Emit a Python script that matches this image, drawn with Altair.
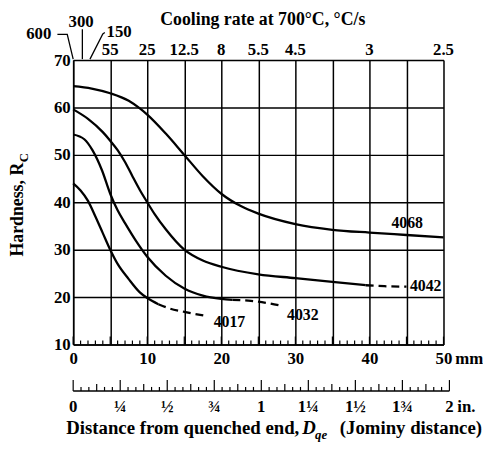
import altair as alt
import pandas as pd

# ---------------- data ----------------
# Jominy curves (distance in mm, hardness HRC)
s4068_x = [0, 2.5, 5, 7.5, 9, 10, 12.5, 15, 17.5, 20, 22.5, 25, 30, 35, 40, 45, 50]
s4068_y = [64.5, 64.0, 63.0, 61.4, 59.8, 58.5, 54.5, 50.0, 45.5, 41.8, 39.3, 37.6, 35.4, 34.2, 33.6, 33.1, 32.6]

s4042_x = [0, 2, 4, 5, 6, 7, 8, 9, 10, 11, 12.5, 15, 17.5, 20, 25, 30, 35, 39.5]
s4042_y = [59.6, 57.6, 54.8, 53.0, 51.0, 48.5, 45.5, 42.6, 40.0, 37.5, 34.3, 30.0, 27.7, 26.4, 24.8, 24.0, 23.2, 22.5]
s4042_dash_x = [39.5, 42, 45]
s4042_dash_y = [22.5, 22.3, 22.2]

s4032_x = [0, 1.5, 2.6, 3.9, 5, 6, 7, 8.5, 10, 12.5, 15, 17.5, 20, 21.5]
s4032_y = [54.3, 53.3, 51.0, 46.7, 41.8, 38.3, 35.6, 31.8, 28.5, 24.5, 21.8, 20.3, 19.6, 19.4]
s4032_dash_x = [21.5, 24, 26, 28]
s4032_dash_y = [19.4, 19.2, 18.8, 18.2]

s4017_x = [0, 1, 2, 3, 4, 5, 6, 7.5, 9, 10, 11.5]
s4017_y = [44.0, 42.5, 40.3, 37.0, 33.5, 30.0, 27.0, 23.8, 21.0, 19.8, 18.5]
s4017_dash_x = [11.5, 13, 15, 18]
s4017_dash_y = [18.5, 17.6, 16.9, 16.0]

# curve labels
curve_names = ["4068", "4042", "4032", "4017"]
curve_label_x = [45.1, 47.6, 31.0, 21.1]
curve_label_y = [35.7, 22.3, 16.3, 14.7]

# top axis: cooling rate at 700 C (C/s) vs distance (mm)
top_pos = [5, 10, 15, 20, 25, 30, 40, 50]
top_lab = ["55", "25", "12.5", "8", "5.5", "4.5", "3", "2.5"]

# rates near the quenched end, with leader lines
near_rates = ["600", "300", "150"]
near_lab_x = [-2.95, 1.07, 4.5]
near_lab_y = [75.4, 78.1, 75.9]
near_align = ["right", "center", "left"]
leader_id = ["600", "600", "600", "300", "300", "150", "150", "150"]
leader_ord = [0, 1, 2, 0, 1, 0, 1, 2]
leader_x = [-2.13, -0.8, 0.0, 1.24, 1.24, 4.27, 4.0, 2.27]
leader_y = [75.42, 75.42, 70.2, 76.5, 70.2, 75.8, 75.5, 70.2]

# mm scale ticks & labels
mm_minor = list(range(0, 51))
mm_grid = list(range(0, 55, 5))
hrc_ticks = [10, 20, 30, 40, 50, 60, 70]

# inch ruler
inch_label_pos = [0, 0.25, 0.5, 0.75, 1.0, 1.25, 1.5, 1.75, 2.0]
inch_label_txt = ["0", "¼", "½", "¾", "1", "1¼", "1½", "1¾", "2"]
inch_steps = list(range(0, 49))  # 1/24 inch steps
MM_PER_IN = 25.4

# ---------------- tables ----------------
def mk(name, xs, ys):
    return pd.DataFrame({"x": xs, "y": ys, "steel": name})

solid = pd.concat([mk("4068", s4068_x, s4068_y), mk("4042", s4042_x, s4042_y),
                   mk("4032", s4032_x, s4032_y), mk("4017", s4017_x, s4017_y)])
dashed = pd.concat([mk("4042", s4042_dash_x, s4042_dash_y), mk("4032", s4032_dash_x, s4032_dash_y),
                    mk("4017", s4017_dash_x, s4017_dash_y)])
labels_df = pd.DataFrame({"x": curve_label_x, "y": curve_label_y, "t": curve_names})
top_df = pd.DataFrame({"x": top_pos, "t": top_lab})
near_df = pd.DataFrame({"x": near_lab_x, "y": near_lab_y, "t": near_rates, "a": near_align})
lead_df = pd.DataFrame({"x": leader_x, "y": leader_y, "id": leader_id, "o": leader_ord})

mm_df = pd.DataFrame({"x": mm_minor})
mm_df["major"] = mm_df["x"] % 5 == 0
inch_df = pd.DataFrame({"i": inch_steps})
inch_df["x"] = inch_df["i"] / 24 * MM_PER_IN
inch_df["kind"] = ["tall" if i % 6 == 0 else ("mid" if i % 3 == 0 else "small") for i in inch_steps]
inch_lab_df = pd.DataFrame({"x": [p * MM_PER_IN for p in inch_label_pos], "t": inch_label_txt})

# ---------------- styling ----------------
FONT = "Liberation Serif"
xs = alt.Scale(domain=[0, 50], nice=False, zero=False)
ys = alt.Scale(domain=[10, 70], nice=False, zero=False)

x_axis = alt.Axis(values=mm_grid, labelExpr="datum.value % 10 == 0 ? datum.label : ''",
                  title=None, tickSize=0, labelPadding=6, grid=True, gridColor="black",
                  gridWidth=1.5, gridOpacity=1, domainColor="black", domainWidth=1.5,
                  labelFont=FONT, labelFontSize=17, labelFontWeight="bold", labelColor="black",
                  labelOverlap=False, labelFlush=False)
y_axis = alt.Axis(values=hrc_ticks, title=None, tickSize=0, labelPadding=3, grid=True,
                  gridColor="black", gridWidth=1.5, gridOpacity=1, domainColor="black",
                  domainWidth=1.5, labelFont=FONT, labelFontSize=17, labelFontWeight="bold",
                  labelColor="black", labelOverlap=False, labelFlush=False)

def X(f="x"):
    return alt.X(f"{f}:Q", scale=xs, axis=x_axis)

def Y(f="y"):
    return alt.Y(f"{f}:Q", scale=ys, axis=y_axis)

txt = dict(font=FONT, fontWeight="bold", color="black", clip=False)

solid_l = alt.Chart(solid).mark_line(color="black", strokeWidth=2.3, interpolate="monotone",
                                     clip=False).encode(x=X(), y=Y(), detail="steel:N")
dashed_l = alt.Chart(dashed).mark_line(color="black", strokeWidth=2.3, strokeDash=[8, 5],
                                       interpolate="monotone", clip=False).encode(
    x=X(), y=Y(), detail="steel:N")
lab_l = alt.Chart(labels_df).mark_text(fontSize=16, **txt).encode(x=X(), y=Y(), text="t:N")

# mm ruler ticks on the bottom axis (pointing up)
mm_minor_l = alt.Chart(mm_df).transform_filter("!datum.major").mark_rule(
    color="black", strokeWidth=1.2).encode(x=X(), y=alt.value(288), y2=alt.value(284))
mm_major_l = alt.Chart(mm_df).transform_filter("datum.major").mark_rule(
    color="black", strokeWidth=1.2).encode(x=X(), y=alt.value(288), y2=alt.value(280))
mm_unit = alt.Chart(pd.DataFrame({"x": [50], "t": ["mm"]})).mark_text(
    fontSize=17, align="left", dx=12, baseline="alphabetic", **txt).encode(
    x=X(), y=alt.value(308), text="t:N")

# top axis labels
top_l = alt.Chart(top_df).mark_text(fontSize=17, baseline="alphabetic", **txt).encode(
    x=X(), y=alt.value(-5), text="t:N")
top_title = alt.Chart(pd.DataFrame({"t": ["Cooling rate at 700°C, °C/s"]})).mark_text(
    fontSize=18, baseline="alphabetic", **txt).encode(
    x=alt.value(192), y=alt.value(-36), text="t:N")
near_layers = []
for a in ["right", "center", "left"]:
    near_layers.append(alt.Chart(near_df).transform_filter(f"datum.a == '{a}'").mark_text(
        fontSize=17, align=a, baseline="middle", **txt).encode(x=X(), y=Y(), text="t:N"))
lead_l = alt.Chart(lead_df).mark_line(color="black", strokeWidth=1.3, clip=False).encode(
    x=X(), y=Y(), detail="id:N", order="o:Q")

# inch ruler
inch_base = alt.Chart(pd.DataFrame({"x": [0], "x2": [2 * MM_PER_IN]})).mark_rule(
    color="black", strokeWidth=1.5, clip=False).encode(
    x=X(), x2="x2:Q", y=alt.value(335))
tick_len = {"small": 4, "mid": 7, "tall": 11}
inch_ticks = []
for k, L in tick_len.items():
    inch_ticks.append(alt.Chart(inch_df).transform_filter(f"datum.kind == '{k}'").mark_rule(
        color="black", strokeWidth=1.2, clip=False).encode(
        x=X(), y=alt.value(335), y2=alt.value(335 - L)))
inch_lab_l = alt.Chart(inch_lab_df).mark_text(fontSize=17, baseline="middle", **txt).encode(
    x=X(), y=alt.value(351), text="t:N")
inch_unit = alt.Chart(pd.DataFrame({"x": [2 * MM_PER_IN], "t": ["in."]})).mark_text(
    fontSize=17, align="left", dx=8, baseline="middle", **txt).encode(
    x=X(), y=alt.value(351), text="t:N")

# y title (Hardness, R_C)
ytitle = alt.Chart(pd.DataFrame({"t": ["Hardness, R"]})).mark_text(
    fontSize=18, angle=270, align="right", baseline="middle", **txt).encode(
    x=alt.value(-56), y=alt.value(104), text="t:N")
ysub = alt.Chart(pd.DataFrame({"t": ["C"]})).mark_text(
    fontSize=13, angle=270, align="right", baseline="middle", **txt).encode(
    x=alt.value(-50), y=alt.value(94), text="t:N")

# x title pieces
xt1 = alt.Chart(pd.DataFrame({"t": ["Distance from quenched end,"]})).mark_text(
    fontSize=19, align="left", baseline="alphabetic", **txt).encode(
    x=alt.value(-7), y=alt.value(379), text="t:N")
xt2 = alt.Chart(pd.DataFrame({"t": ["D"]})).mark_text(
    fontSize=19, align="left", baseline="alphabetic", fontStyle="italic", **txt).encode(
    x=alt.value(232), y=alt.value(379), text="t:N")
xt3 = alt.Chart(pd.DataFrame({"t": ["qe"]})).mark_text(
    fontSize=13, align="left", baseline="alphabetic", fontStyle="italic", **txt).encode(
    x=alt.value(245), y=alt.value(384), text="t:N")
xt4 = alt.Chart(pd.DataFrame({"t": ["(Jominy distance)"]})).mark_text(
    fontSize=19, align="right", baseline="alphabetic", **txt).encode(
    x=alt.value(414), y=alt.value(379), text="t:N")

chart = alt.layer(
    solid_l, dashed_l, lab_l, mm_minor_l, mm_major_l, mm_unit, top_l, top_title,
    *near_layers, lead_l, inch_base, *inch_ticks, inch_lab_l, inch_unit,
    ytitle, ysub, xt1, xt2, xt3, xt4
).properties(
    width=375, height=288,
    autosize=alt.AutoSizeParams(type="none"),
    padding={"left": 66, "top": 50, "right": 40, "bottom": 96},
).configure_view(stroke="black", strokeWidth=1.5).configure(background="white")

chart.save("out.html", embed_options={"renderer": "svg", "actions": False})
